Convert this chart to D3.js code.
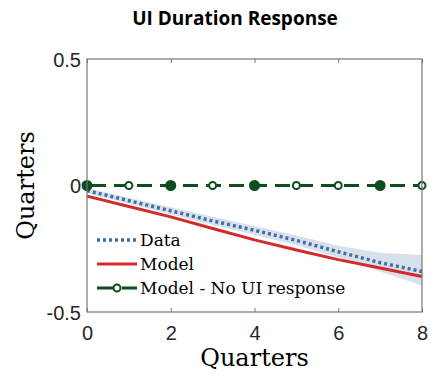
<!DOCTYPE html>
<html>
<head>
<meta charset="utf-8">
<script src="https://cdn.jsdelivr.net/npm/d3@7"></script>
<style>
body { margin: 0; background: #fff; }
svg { display: block; }
</style>
</head>
<body>
<div id="chart"></div>
<script>
// quarters after the shock
var quarters = [0, 1, 2, 3, 4, 5, 6, 7, 8];
var dataResp = [-0.02, -0.06, -0.10, -0.14, -0.177, -0.217, -0.262, -0.305, -0.34];
var bandUpper = [-0.01, -0.048, -0.086, -0.124, -0.16, -0.198, -0.238, -0.266, -0.275];
var bandLower = [-0.03, -0.072, -0.114, -0.156, -0.195, -0.236, -0.285, -0.34, -0.395];
var modelResp = [-0.042, -0.083, -0.124, -0.17, -0.215, -0.255, -0.293, -0.326, -0.36];
var noUIResp = [0, 0, 0, 0, 0, 0, 0, 0, 0];
var noUIFilled = [true, false, true, false, true, false, false, true, false];
var xTicks = [0, 2, 4, 6, 8];
var yTicks = [-0.5, 0, 0.5];
var yTickLabels = ["-0.5", "0", "0.5"];
var legendLabels = ["Data", "Model", "Model - No UI response"];

var W = 430, H = 373;
var svg = d3.select("#chart").append("svg").attr("width", W).attr("height", H);

var x = d3.scaleLinear().domain([0, 8]).range([87, 422]);
var y = d3.scaleLinear().domain([-0.5, 0.5]).range([312, 59]);

var serif = "'DejaVu Serif', serif";
var sans = "'Liberation Sans', Arial, sans-serif";

// title
svg.append("text")
    .attr("x", 235).attr("y", 25)
    .attr("text-anchor", "middle")
    .style("font-family", "'Open Sans', sans-serif")
    .style("font-weight", "bold")
    .style("font-size", "19px")
    .text("UI Duration Response");

// confidence band
var area = d3.area()
    .x(function(d, i) { return x(quarters[i]); })
    .y0(function(d, i) { return y(bandLower[i]); })
    .y1(function(d, i) { return y(bandUpper[i]); });
svg.append("path").datum(quarters)
    .attr("d", area)
    .attr("fill", "#d8e0ea");

var line = function(vals) {
  return d3.line()
      .x(function(d, i) { return x(quarters[i]); })
      .y(function(d) { return y(d); })(vals);
};

// model
svg.append("path").attr("d", line(modelResp))
    .attr("fill", "none").attr("stroke", "#d42a2a").attr("stroke-width", 3);

// data
svg.append("path").attr("d", line(dataResp))
    .attr("fill", "none").attr("stroke", "#3d6fa8").attr("stroke-width", 3.5)
    .attr("stroke-dasharray", "3,3");

// model - no UI response
var green = "#0d4d1e";
svg.append("path").attr("d", line(noUIResp))
    .attr("fill", "none").attr("stroke", green).attr("stroke-width", 3)
    .attr("stroke-dasharray", "15,8").attr("stroke-dashoffset", -4);
svg.selectAll("circle.nui").data(quarters).enter().append("circle")
    .attr("class", "nui")
    .attr("cx", function(d) { return x(d); })
    .attr("cy", function(d, i) { return y(noUIResp[i]); })
    .attr("r", function(d, i) { return noUIFilled[i] ? 4.5 : 3.5; })
    .attr("fill", function(d, i) { return noUIFilled[i] ? green : "#fff"; })
    .attr("stroke", green).attr("stroke-width", 2);

// axes box
var axisColor = "#777";
svg.append("rect")
    .attr("x", x(0)).attr("y", y(0.5))
    .attr("width", x(8) - x(0)).attr("height", y(-0.5) - y(0.5))
    .attr("fill", "none").attr("stroke", axisColor).attr("stroke-width", 1.2);

var gx = svg.append("g").attr("transform", "translate(0," + y(-0.5) + ")")
    .call(d3.axisBottom(x).tickValues(xTicks).tickSize(-4).tickPadding(10).tickFormat(d3.format("d")));
var gxt = svg.append("g").attr("transform", "translate(0," + y(0.5) + ")")
    .call(d3.axisTop(x).tickValues(xTicks).tickSize(-4).tickFormat(""));
var gy = svg.append("g").attr("transform", "translate(" + x(0) + ",0)")
    .call(d3.axisLeft(y).tickValues(yTicks).tickSize(0).tickPadding(6)
      .tickFormat(function(d, i) { return yTickLabels[i]; }));
[gx, gxt, gy].forEach(function(g) {
  g.select(".domain").remove();
  g.selectAll("line").attr("stroke", axisColor);
  g.selectAll("text").style("font-family", sans).style("font-size", "20px").attr("fill", "#262626");
});
gx.selectAll("text").attr("dy", "0.9em");
gy.selectAll("text").attr("dy", "0.35em");

// axis labels
svg.append("text")
    .attr("x", x(4)).attr("y", 366)
    .attr("text-anchor", "middle")
    .style("font-family", serif).style("font-size", "24px")
    .text("Quarters");
svg.append("text")
    .attr("transform", "translate(34," + y(0) + ") rotate(-90)")
    .attr("text-anchor", "middle")
    .style("font-family", serif).style("font-size", "24px")
    .text("Quarters");

// legend
var lg = svg.append("g").attr("transform", "translate(97,240)");
var rowH = 24;
lg.append("line").attr("x1", 0).attr("x2", 40).attr("y1", 0).attr("y2", 0)
    .attr("stroke", "#3d6fa8").attr("stroke-width", 3.5).attr("stroke-dasharray", "3,3");
lg.append("line").attr("x1", 0).attr("x2", 40).attr("y1", rowH).attr("y2", rowH)
    .attr("stroke", "#d42a2a").attr("stroke-width", 3);
lg.append("line").attr("x1", 0).attr("x2", 40).attr("y1", 2 * rowH).attr("y2", 2 * rowH)
    .attr("stroke", green).attr("stroke-width", 3).attr("stroke-dasharray", "18,7");
lg.append("circle").attr("cx", 20).attr("cy", 2 * rowH).attr("r", 3.5)
    .attr("fill", "#fff").attr("stroke", green).attr("stroke-width", 2);
lg.selectAll("text").data(legendLabels).enter().append("text")
    .attr("x", 43).attr("y", function(d, i) { return i * rowH; })
    .attr("dy", "0.35em")
    .style("font-family", serif).style("font-size", "17px")
    .text(function(d) { return d; });
</script>
</body>
</html>
